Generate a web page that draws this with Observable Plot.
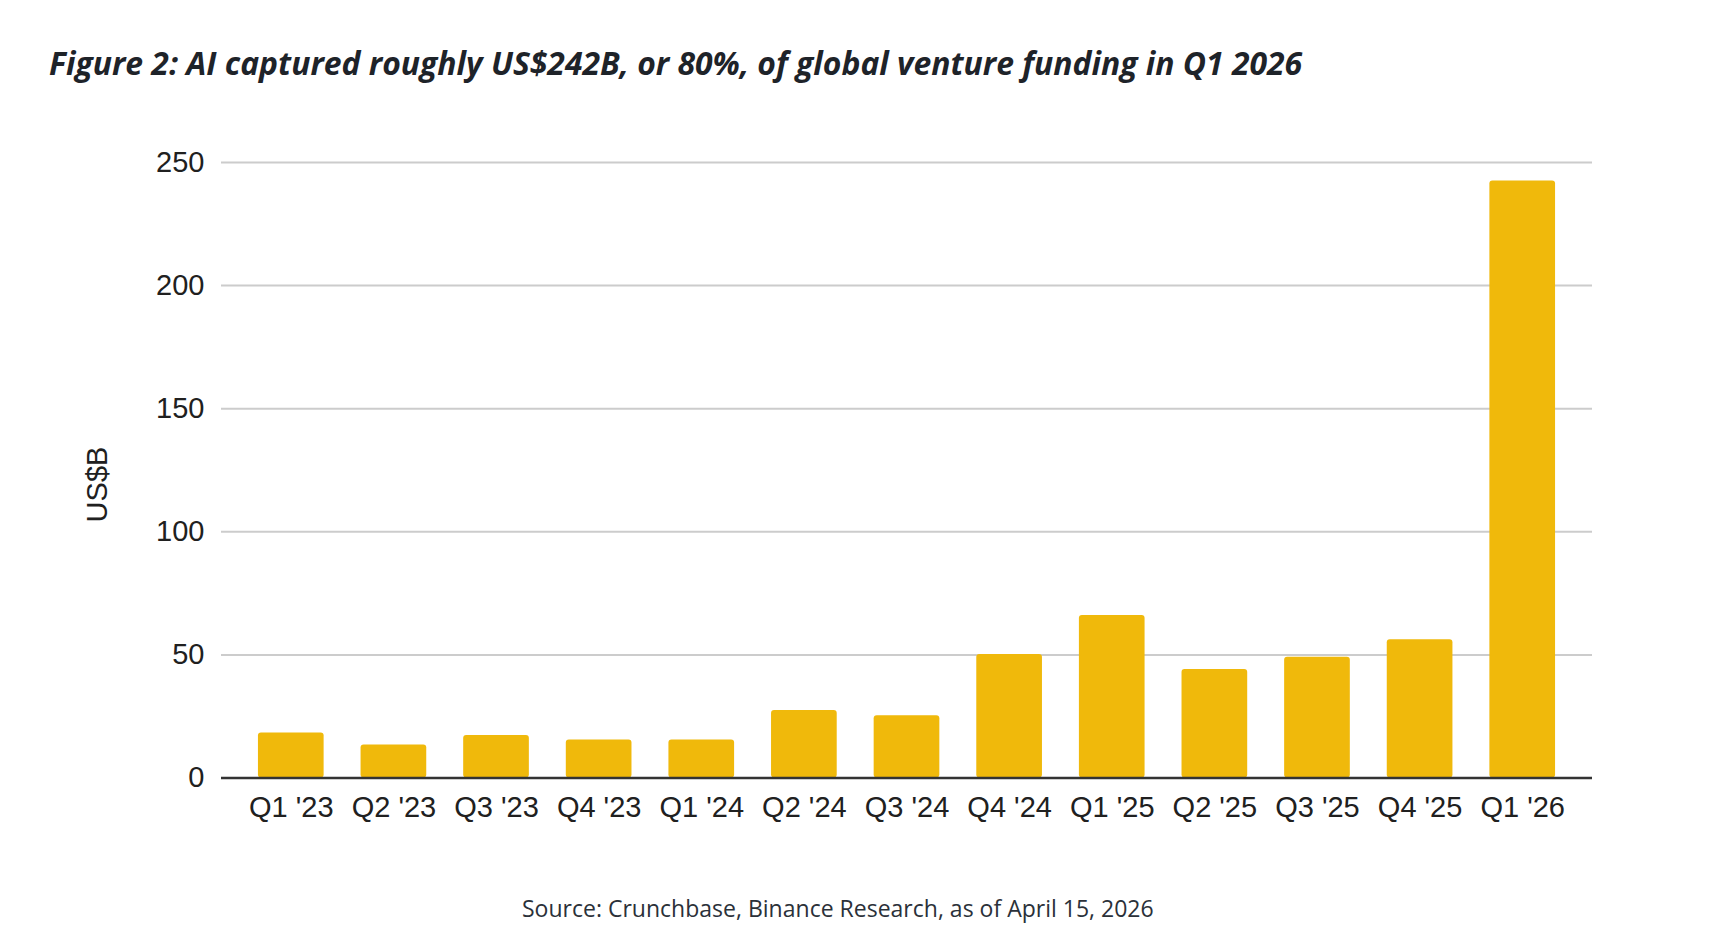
<!DOCTYPE html>
<html>
<head>
<meta charset="utf-8">
<script src="https://cdn.jsdelivr.net/npm/d3@7"></script>
<script src="https://cdn.jsdelivr.net/npm/@observablehq/plot@0.6"></script>
<style>
  html, body { margin: 0; padding: 0; background: #ffffff; }
  #page { position: relative; width: 1718px; height: 950px; overflow: hidden; background: #fff; }
  #title { position: absolute; left: 49px; top: 0; white-space: nowrap;
    font-family: "Open Sans", "Noto Sans", sans-serif; font-weight: 700; font-style: italic;
    font-size: 32px; line-height: 1; color: #1e2329; }
  #caption { position: absolute; left: 522px; top: 0; white-space: nowrap;
    font-family: "Open Sans", "Noto Sans", sans-serif; font-weight: 400;
    font-size: 23px; line-height: 1; color: #2b3139; }
  #chart { position: absolute; left: 0; top: 120px; }
  .probe { display: inline-block; width: 0; height: 0; vertical-align: baseline; }
</style>
</head>
<body>
<div id="page">
  <div id="title"><span class="txt">Figure 2: AI captured roughly US$242B, or 80%, of global venture funding in Q1 2026</span><span class="probe"></span></div>
  <div id="chart"></div>
  <div id="caption"><span class="txt">Source: Crunchbase, Binance Research, as of April 15, 2026</span><span class="probe"></span></div>
</div>
<script>
const quarters = ["Q1 '23", "Q2 '23", "Q3 '23", "Q4 '23", "Q1 '24", "Q2 '24", "Q3 '24", "Q4 '24", "Q1 '25", "Q2 '25", "Q3 '25", "Q4 '25", "Q1 '26"];
const funding = [18.3, 13.4, 17.3, 15.4, 15.4, 27.4, 25.3, 50.2, 66.0, 44.1, 49.0, 56.2, 242.5];
const yTicks = [0, 50, 100, 150, 200, 250];
const yLabel = "US$B";

const data = quarters.map((q, i) => ({quarter: q, value: funding[i]}));

const chart = Plot.plot({
  width: 1718,
  height: 740,
  marginTop: 42,
  marginBottom: 82.5,
  marginLeft: 221,
  marginRight: 126,
  style: {fontFamily: "'Liberation Sans', Arial, sans-serif", fontSize: "29px", color: "#202020", background: "#ffffff"},
  x: {domain: quarters, paddingInner: 0.36, paddingOuter: 0.36, round: false, label: null},
  y: {domain: [0, 250], label: null},
  marks: [
    Plot.gridY(yTicks, {stroke: "#cccccc", strokeOpacity: 1, strokeWidth: 2}),
    Plot.barY(data, {x: "quarter", y: "value", fill: "#F0B90B", rx: 3}),
    Plot.ruleY([0], {stroke: "#333333", strokeWidth: 2.5}),
    Plot.axisX({tickSize: 0, tickPadding: 18, label: null, fontSize: 29}),
    Plot.axisY(yTicks, {tickSize: 0, tickPadding: 17, label: null, fontSize: 29}),
    Plot.text([yLabel], {text: d => d, frameAnchor: "left", rotate: -90, dx: -123.5, dy: 14.25,
      fontSize: 29, textAnchor: "middle", lineAnchor: "middle", fill: "#202020"})
  ]
});
document.getElementById("chart").appendChild(chart);

function fit(id, targetWidth, targetBaseline) {
  const el = document.getElementById(id);
  const txt = el.querySelector(".txt");
  const fs = parseFloat(getComputedStyle(el).fontSize);
  const w = txt.getBoundingClientRect().width;
  el.style.fontSize = (fs * targetWidth / w) + "px";
  const pageTop = document.getElementById("page").getBoundingClientRect().top;
  const probe = el.querySelector(".probe");
  const b = probe.getBoundingClientRect().top - pageTop;
  const curTop = parseFloat(el.style.top || "0");
  el.style.top = (curTop + targetBaseline - b) + "px";
}
fit("title", 1254, 75);
fit("caption", 632, 916.7);
</script>
</body>
</html>
